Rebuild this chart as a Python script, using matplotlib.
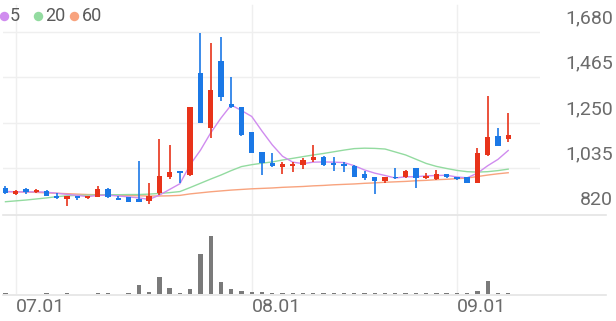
import matplotlib
matplotlib.use("Agg")
import matplotlib.pyplot as plt
from matplotlib.lines import Line2D
from matplotlib import transforms
import numpy as np

# ---------------- data ----------------
opens = [941, 914, 937, 924, 930, 905, 889, 905, 897, 899, 940, 897, 900, 889, 880,
         918, 996, 1023, 1004, 1488, 1228, 1545, 1338, 1327, 1209, 1115, 1062, 1044, 1047,
         1052, 1075, 1091, 1059, 1055, 1047, 1009, 996, 978, 992, 995, 1039, 988, 985,
         1007, 996, 996, 968, 1099, 1188, 1173]
highs = [951, 935, 941, 938, 932, 921, 905, 905, 905, 954, 943, 905, 900, 1070, 965,
         1173, 1146, 1023, 1324, 1674, 1626, 1655, 1469, 1327, 1209, 1115, 1110, 1067, 1067,
         1083, 1146, 1096, 1091, 1067, 1052, 1023, 996, 996, 1036, 1028, 1039, 1012, 1028,
         1007, 996, 996, 1133, 1378, 1225, 1296]
lows = [913, 910, 916, 918, 905, 891, 859, 886, 889, 899, 897, 885, 877, 877, 866,
        910, 984, 965, 1000, 1248, 1178, 1354, 1319, 1189, 1107, 1004, 1040, 1009, 1020,
        1033, 1067, 1048, 1025, 1020, 996, 981, 915, 968, 985, 992, 944, 985, 981,
        989, 981, 965, 965, 1094, 1143, 1162]
closes = [919, 930, 924, 933, 907, 897, 905, 897, 903, 940, 899, 888, 877, 877, 905,
          1000, 1020, 1015, 1324, 1248, 1406, 1371, 1325, 1193, 1110, 1059, 1047, 1055, 1055,
          1075, 1091, 1052, 1052, 1047, 996, 992, 978, 996, 989, 1023, 992, 1000, 1007,
          993, 985, 968, 1110, 1185, 1143, 1193]
volumes = [60, 50, 50, 40, 60, 50, 70, 40, 40, 80, 60, 50, 60, 900, 170,
           1750, 600, 100, 540, 4000, 5800, 1240, 500, 270, 200, 170, 110, 90, 100,
           90, 110, 90, 80, 80, 100, 80, 90, 70, 80, 80, 90, 70, 70,
           60, 80, 90, 300, 1340, 130, 90]
ma5 = [926, 925, 924, 925, 923, 918, 913, 908, 902, 908, 909, 905, 901, 896, 889,
       909, 936, 963, 1053, 1121, 1203, 1273, 1335, 1309, 1281, 1212, 1147, 1093, 1065,
       1058, 1065, 1066, 1065, 1063, 1048, 1028, 1013, 1002, 990, 996, 996, 1000, 1002,
       1003, 995, 991, 1013, 1048, 1078, 1120]
ma20 = [878, 882, 886, 891, 896, 902, 906, 908, 909, 910, 911, 911, 912, 912, 914,
        917, 921, 926, 945, 965, 985, 1004, 1025, 1044, 1053, 1060, 1066, 1075, 1083,
        1091, 1099, 1106, 1114, 1122, 1129, 1131, 1130, 1127, 1113, 1099, 1079, 1059, 1045,
        1035, 1026, 1020, 1018, 1020, 1025, 1032]
ma60 = [926, 925, 924, 922, 920, 918, 916, 914, 912, 911, 910, 908, 907, 906, 905,
        905, 906, 908, 915, 920, 925, 929, 933, 936, 939, 941, 943, 946, 948,
        950, 953, 955, 958, 960, 962, 965, 967, 970, 972, 974, 977, 979, 982,
        984, 987, 990, 997, 1004, 1010, 1015]
month_labels = ["07.01", "08.01", "09.01"]
month_index = [1, 24, 44]
price_ticks = [820, 1035, 1250, 1465, 1680]
legend_labels = ["5", "20", "60"]

# ---------------- styles ----------------
RED = "#e8331a"
BLUE = "#1b78e6"
C5, C20, C60 = "#d08cef", "#93dba0", "#f8a37e"
TXT = "#6b6b6b"
GRID = "#efefef"
SEP = "#e4e4e4"
FONT = "Roboto"

W, H = 616, 321
fig = plt.figure(figsize=(W / 100, H / 100), dpi=100)
fig.patch.set_facecolor("white")

def px_rect(x0, y0, x1, y1):
    return [x0 / W, 1 - y1 / H, (x1 - x0) / W, (y1 - y0) / H]

n = len(closes)
xs = np.arange(n)
xlim = (-0.24, 52.1)

ax = fig.add_axes(px_rect(3, 0, 540, 214))
axv = fig.add_axes(px_rect(3, 215, 540, 294))
for a in (ax, axv):
    a.set_xlim(*xlim)
    a.axis("off")

ax.set_ylim(820, 820 + 214 * 4.725)
axv.set_ylim(0, 7900)

# gridlines
for t in price_ticks[1:]:
    ax.axhline(t, color=GRID, lw=1.0, zorder=0)
for mi in month_index:
    ax.axvline(mi, ymin=0, ymax=0.975, color=GRID, lw=1.0, zorder=0)
    axv.axvline(mi, color=GRID, lw=1.0, zorder=0)

# full-width separators
for yy in (214.5, 294.5):
    fig.add_artist(Line2D([3 / W, 606 / W], [1 - yy / H, 1 - yy / H],
                          transform=fig.transFigure, color=SEP, lw=1.2))

# moving averages
ax.plot(xs, ma60, color=C60, lw=1.0, zorder=2)
ax.plot(xs, ma20, color=C20, lw=1.0, zorder=2)
ax.plot(xs, ma5, color=C5, lw=1.0, zorder=2)

# candles
o = np.array(opens, float)
c = np.array(closes, float)
hi = np.array(highs, float)
lo = np.array(lows, float)
up = c >= o
cols = [RED if u else BLUE for u in up]
ax.vlines(xs, lo, hi, colors=cols, lw=1.2, zorder=3)
bottoms = np.minimum(o, c)
heights = np.maximum(np.abs(c - o), 6)
ax.bar(xs, heights, bottom=bottoms, width=0.52, color=cols, zorder=4, linewidth=0)

# volume
axv.bar(xs, volumes, width=0.42, color="#7a7a7a", linewidth=0, zorder=3)

# price labels
blend = transforms.blended_transform_factory(fig.transFigure, ax.transData)
for t in price_ticks:
    ax.annotate(f"{t:,}", xy=(613 / W, t), xycoords=blend, xytext=(0, 10),
                textcoords="offset points", ha="right", va="center",
                fontsize=14, color=TXT, family=FONT, annotation_clip=False)

# x labels
blendx = transforms.blended_transform_factory(axv.transData, fig.transFigure)
for lab, mi in zip(month_labels, month_index):
    axv.text(mi, 1 - 307.5 / H, lab, transform=blendx, ha="left", va="center",
             fontsize=14, color=TXT, family=FONT)

# legend
dots = [(4, C5), (38, C20), (74, C60)]
text_x = [9.5, 45.5, 82]
for (dx, col), tx, lab in zip(dots, text_x, legend_labels):
    fig.add_artist(Line2D([dx / W], [1 - 16 / H], transform=fig.transFigure,
                          marker="o", markersize=6.8, markerfacecolor=col,
                          markeredgecolor="none", linestyle="none"))
    fig.text(tx / W, 1 - 16 / H, lab, ha="left", va="center", fontsize=13,
             color="#5a5a5a", family=FONT)

fig.savefig("out.png", dpi=100)
